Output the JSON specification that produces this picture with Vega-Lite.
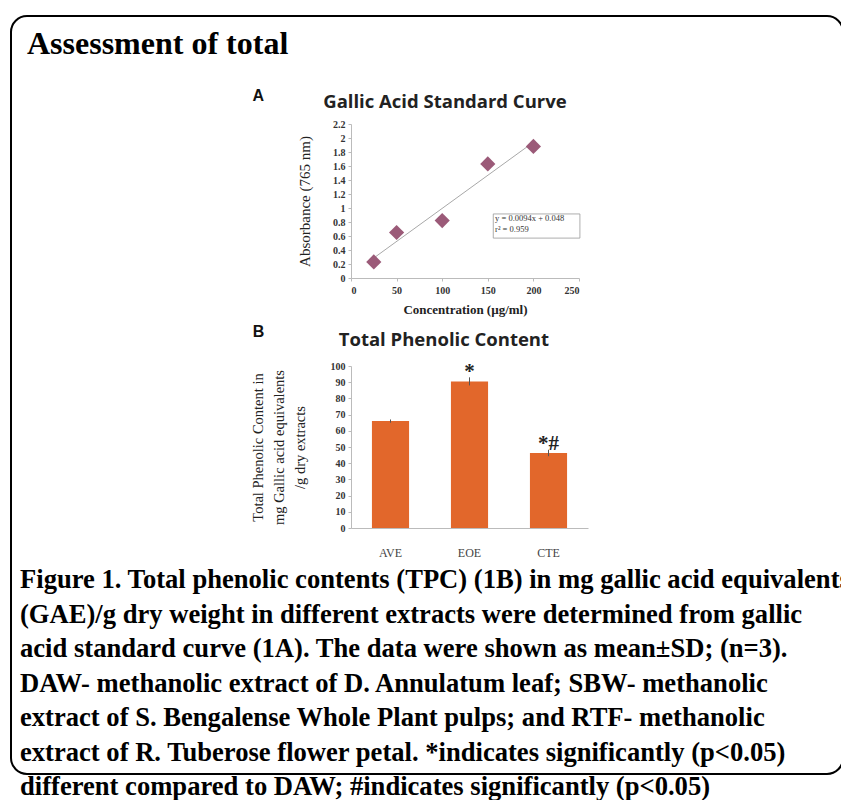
{
  "$schema": "https://vega.github.io/schema/vega-lite/v6.json",
  "background": "white",
  "padding": {"left": 10, "top": 15, "right": 0, "bottom": 0},
  "autosize": {"type": "pad"},
  "columns": 1,
  "align": "none",
  "bounds": "flush",
  "spacing": -650,
  "config": {"view": {"stroke": null}, "font": "Liberation Serif", "axis": {"labelOverlap": false}},
  "datasets": {
    "gallic": [
      {"conc": 25, "absorbance": 0.23},
      {"conc": 50, "absorbance": 0.65},
      {"conc": 100, "absorbance": 0.82},
      {"conc": 150, "absorbance": 1.63},
      {"conc": 200, "absorbance": 1.88}
    ],
    "tpc": [
      {"extract": "AVE", "value": 66, "sd": 1, "sig": ""},
      {"extract": "EOE", "value": 90.5, "sd": 2.5, "sig": "*"},
      {"extract": "CTE", "value": 46.3, "sd": 2, "sig": "*#"}
    ],
    "caption": [
      {"line": 1, "text": "Figure 1. Total phenolic contents (TPC) (1B) in mg gallic acid equivalents"},
      {"line": 2, "text": "(GAE)/g dry weight in different extracts were determined from gallic"},
      {"line": 3, "text": "acid standard curve (1A). The data were shown as mean±SD; (n=3)."},
      {"line": 4, "text": "DAW- methanolic extract of D. Annulatum leaf; SBW- methanolic"},
      {"line": 5, "text": "extract of S. Bengalense Whole Plant pulps; and RTF- methanolic"},
      {"line": 6, "text": "extract of R. Tuberose flower petal. *indicates significantly (p<0.05)"},
      {"line": 7, "text": "different compared to DAW; #indicates significantly (p<0.05)"}
    ]
  },
  "concat": [
    {
      "width": 832,
      "height": 758,
      "layer": [
        {
          "data": {"values": [{}]},
          "mark": {"type": "rect", "filled": false, "color": "black", "strokeWidth": 2, "cornerRadius": 16},
          "encoding": {}
        },
        {
          "data": {"values": [{"heading": "Assessment of total"}]},
          "mark": {"type": "text", "align": "left", "baseline": "alphabetic", "font": "Liberation Serif", "fontSize": 32, "fontWeight": "bold", "color": "black"},
          "encoding": {
            "x": {"datum": 0.0192, "type": "quantitative", "scale": {"domain": [0, 1]}, "axis": null},
            "y": {"datum": 0.95, "type": "quantitative", "scale": {"domain": [0, 1]}, "axis": null},
            "text": {"field": "heading"}
          }
        }
      ]
    },
    {
      "bounds": "full",
      "center": true,
      "spacing": 4,
      "vconcat": [
        {
          "bounds": "full",
          "spacing": 8,
          "vconcat": [
            {
              "width": 228,
              "height": 154,
              "layer": [
                {
                  "data": {"name": "gallic"},
                  "transform": [{"regression": "absorbance", "on": "conc"}],
                  "mark": {"type": "line", "color": "#a8a8a8", "strokeWidth": 1},
                  "encoding": {
                    "x": {"field": "conc", "type": "quantitative"},
                    "y": {"field": "absorbance", "type": "quantitative"}
                  }
                },
                {
                  "data": {"name": "gallic"},
                  "mark": {"type": "point", "shape": "diamond", "filled": true, "size": 230, "color": "#9B5A78", "opacity": 1},
                  "encoding": {
                    "x": {"field": "conc", "type": "quantitative", "scale": {"domain": [0, 250], "nice": false},
                      "axis": {"values": [0, 50, 100, 150, 200, 250], "tickCount": 20, "labelOverlap": false, "title": "Concentration (µg/ml)", "grid": false, "labelFont": "Liberation Serif", "labelFontSize": 10, "labelFontWeight": "bold", "labelColor": "#333", "tickSize": 3, "labelPadding": 4, "domainColor": "#bbb", "tickColor": "#bbb", "titleFont": "Liberation Serif", "titleFontSize": 13, "titleFontWeight": "bold", "titleColor": "#222", "titlePadding": 8}},
                    "y": {"field": "absorbance", "type": "quantitative", "scale": {"domain": [0, 2.2], "nice": false},
                      "axis": {"values": [0, 0.2, 0.4, 0.6, 0.8, 1, 1.2, 1.4, 1.6, 1.8, 2, 2.2], "tickCount": 20, "labelOverlap": false, "format": "~g", "title": "Absorbance (765 nm)", "grid": false, "labelFont": "Liberation Serif", "labelFontSize": 10, "labelFontWeight": "bold", "labelColor": "#333", "tickSize": 3, "labelPadding": 3, "domainColor": "#bbb", "tickColor": "#bbb", "titleFont": "Liberation Serif", "titleFontSize": 15, "titleFontWeight": "normal", "titleColor": "#222", "titlePadding": 20}}
                  }
                },
                {
                  "data": {"values": [{}]},
                  "mark": {"type": "rect", "fill": "white", "stroke": "#999", "strokeWidth": 0.8},
                  "encoding": {
                    "x": {"datum": 156, "type": "quantitative"},
                    "x2": {"datum": 251},
                    "y": {"datum": 0.57, "type": "quantitative"},
                    "y2": {"datum": 0.915}
                  }
                },
                {
                  "data": {"values": [{"eq": "y = 0.0094x + 0.048"}]},
                  "mark": {"type": "text", "align": "left", "baseline": "middle", "font": "Liberation Serif", "fontSize": 8.5, "color": "#333"},
                  "encoding": {
                    "x": {"datum": 158, "type": "quantitative"},
                    "y": {"datum": 0.86, "type": "quantitative"},
                    "text": {"field": "eq"}
                  }
                },
                {
                  "data": {"values": [{"eq": "r² = 0.959"}]},
                  "mark": {"type": "text", "align": "left", "baseline": "middle", "font": "Liberation Serif", "fontSize": 8.5, "color": "#333"},
                  "encoding": {
                    "x": {"datum": 158, "type": "quantitative"},
                    "y": {"datum": 0.7, "type": "quantitative"},
                    "text": {"field": "eq"}
                  }
                },
                {
                  "data": {"values": [{"label": "A"}]},
                  "mark": {"type": "text", "align": "left", "baseline": "middle", "font": "Liberation Sans", "fontSize": 16, "fontWeight": "bold", "color": "#111"},
                  "encoding": {
                    "x": {"datum": -108, "type": "quantitative"},
                    "y": {"datum": 2.6, "type": "quantitative"},
                    "text": {"field": "label"}
                  }
                },
                {
                  "data": {"values": [{"label": "Gallic Acid Standard Curve"}]},
                  "mark": {"type": "text", "align": "center", "baseline": "middle", "font": "Open Sans", "fontSize": 18.5, "fontWeight": "bold", "color": "#222"},
                  "encoding": {
                    "x": {"datum": 103, "type": "quantitative"},
                    "y": {"datum": 2.51, "type": "quantitative"},
                    "text": {"field": "label"}
                  }
                }
              ]
            },
            {
              "width": 237,
              "height": 162,
              "layer": [
                {
                  "data": {"name": "tpc"},
                  "encoding": {
                    "x": {"field": "extract", "type": "nominal", "sort": null, "scale": {"paddingInner": 0.53, "paddingOuter": 0.265},
                      "axis": {"title": null, "labelAngle": 0, "ticks": false, "labelFont": "Liberation Serif", "labelFontSize": 12, "labelColor": "#444", "labelPadding": 19.5, "domainColor": "#bbb"}},
                    "y": {"field": "value", "type": "quantitative", "scale": {"domain": [0, 100], "nice": false},
                      "axis": {"values": [0, 10, 20, 30, 40, 50, 60, 70, 80, 90, 100], "tickCount": 20, "labelOverlap": false, "title": ["Total Phenolic Content in", "mg Gallic acid equivalents", "/g dry extracts"], "grid": false, "labelFont": "Liberation Serif", "labelFontSize": 10, "labelFontWeight": "bold", "labelColor": "#333", "tickSize": 3, "labelPadding": 3, "domainColor": "#bbb", "tickColor": "#bbb", "titleFont": "Liberation Serif", "titleFontSize": 14.5, "titleFontWeight": "normal", "titleColor": "#222", "titleLineHeight": 21, "titlePadding": 23}}
                  },
                  "layer": [
                    {"mark": {"type": "bar", "color": "#E2672B"}},
                    {"mark": {"type": "errorbar", "color": "#555", "thickness": 1}, "encoding": {"yError": {"field": "sd"}}},
                    {"mark": {"type": "text", "align": "center", "baseline": "alphabetic", "dy": -3, "font": "Liberation Serif", "fontSize": 21, "fontWeight": "bold", "color": "#222"}, "encoding": {"text": {"field": "sig"}}}
                  ]
                },
                {
                  "data": {"values": [{"label": "B"}]},
                  "mark": {"type": "text", "align": "left", "baseline": "middle", "font": "Liberation Sans", "fontSize": 16, "fontWeight": "bold", "color": "#111"},
                  "encoding": {
                    "x": {"datum": -0.415, "type": "quantitative", "scale": {"domain": [0, 1]}, "axis": null},
                    "y": {"datum": 120.8, "type": "quantitative"},
                    "text": {"field": "label"}
                  }
                },
                {
                  "data": {"values": [{"label": "Total Phenolic Content"}]},
                  "mark": {"type": "text", "align": "center", "baseline": "middle", "font": "Open Sans", "fontSize": 18.5, "fontWeight": "bold", "color": "#222"},
                  "encoding": {
                    "x": {"datum": 0.392, "type": "quantitative", "scale": {"domain": [0, 1]}, "axis": null},
                    "y": {"datum": 115.9, "type": "quantitative"},
                    "text": {"field": "label"}
                  }
                }
              ],
              "resolve": {"scale": {"x": "independent"}}
            }
          ]
        },
        {
          "width": 917,
          "height": 241.5,
          "data": {"name": "caption"},
          "mark": {"type": "text", "align": "left", "baseline": "middle", "dx": 9, "font": "Liberation Serif", "fontSize": 26.6, "fontWeight": "bold", "color": "black"},
          "encoding": {
            "x": {"datum": 0, "type": "quantitative", "scale": {"domain": [0, 1]}, "axis": null},
            "y": {"field": "line", "type": "ordinal", "axis": null, "scale": {"type": "point", "padding": 0.5}},
            "text": {"field": "text"}
          }
        }
      ]
    }
  ]
}
